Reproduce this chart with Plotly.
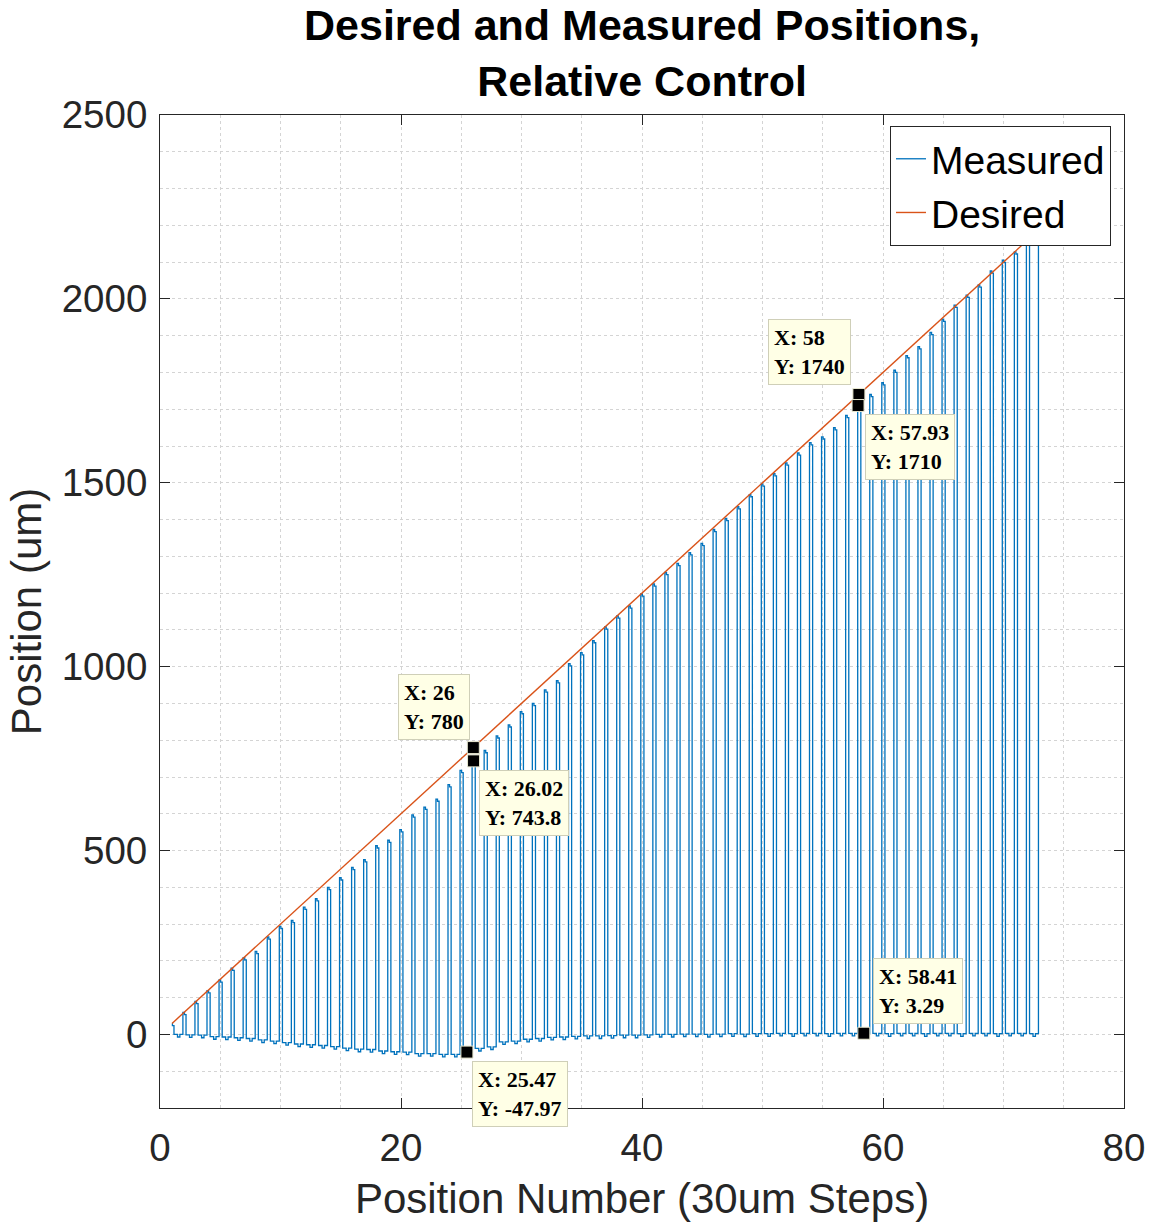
import plotly.graph_objects as go

# Position index (30 um steps)
positions = list(range(1, 74))

# Commanded position for each step (um)
desired = [30, 60, 90, 120, 150, 180, 210, 240, 270, 300,
           330, 360, 390, 420, 450, 480, 510, 540, 570, 600,
           630, 660, 690, 720, 750, 780, 810, 840, 870, 900,
           930, 960, 990, 1020, 1050, 1080, 1110, 1140, 1170, 1200,
           1230, 1260, 1290, 1320, 1350, 1380, 1410, 1440, 1470, 1500,
           1530, 1560, 1590, 1620, 1650, 1680, 1710, 1740, 1770, 1800,
           1830, 1860, 1890, 1920, 1950, 1980, 2010, 2040, 2070, 2100,
           2130, 2160, 2190]

# Measured position at the top of each excursion (um)
measured_peak = [30, 60, 90, 119, 148, 180, 209, 226, 265, 294,
                 310, 346, 369, 400, 426, 454, 475, 513, 528, 557,
                 597, 618, 640, 679, 718, 743.8, 772, 812, 842, 878,
                 900, 937, 962, 1008, 1038, 1071, 1108, 1138, 1165, 1198,
                 1225, 1256, 1281, 1310, 1335, 1373, 1403, 1435, 1468, 1497,
                 1525, 1554, 1581, 1609, 1625, 1650, 1683, 1710, 1740, 1772,
                 1806, 1846, 1870, 1909, 1945, 1983, 2010, 2038, 2076, 2105,
                 2128, 2158, 2182]

# Measured position after returning home, following each excursion (um)
measured_home = [0, -1, -2, -6, -7, -9, -11, -15, -18, -22,
                 -26, -28, -30, -33, -37, -40, -41, -45, -47, -48,
                 -52, -52, -54, -54, -47.97, -38, -34, -20, -18, -13,
                 -11, -8, -7, -5, -4, -4, -3, -2, -2, -1,
                 0, 0, 1, 1, 0, 1, 2, 1, 2, 2,
                 3, 2, 3, 3, 2, 3, 3, 3.29, 3, 2,
                 3, 3, 2, 3, 3, 2, 3, 3, 2, 3,
                 3, 2, 3]

# Data tips
tip_x = [26, 26.02, 25.47, 58, 57.93, 58.41]
tip_y = [780, 743.8, -47.97, 1740, 1710, 3.29]
tip_text = ["X: 26<br>Y: 780", "X: 26.02<br>Y: 743.8", "X: 25.47<br>Y: -47.97",
            "X: 58<br>Y: 1740", "X: 57.93<br>Y: 1710", "X: 58.41<br>Y: 3.29"]
# box placement relative to the tip point: (xanchor, yanchor, xshift, yshift)
tip_place = [("right", "bottom", -3, 8), ("left", "top", 5, -9), ("left", "top", 5, -9),
             ("right", "bottom", -8, 10), ("left", "top", 7, -8), ("left", "bottom", 9, 9)]

# Build the measured trace as a pulse train: go out to the step, come home
mx, my = [], []
for i, n in enumerate(positions):
    p = measured_peak[i]
    h = measured_home[i]
    if i == 0:
        mx += [n]
        my += [p]
    else:
        mx += [n - 0.1, n - 0.1]
        my += [measured_home[i - 1], p]
    mx += [n + 0.03, n + 0.03, n + 0.16]
    my += [p, p - 6, p - 6]
    if i == len(positions) - 1:
        break
    mx += [n + 0.16, n + 0.45, n + 0.45, n + 0.65, n + 0.65, n + 0.9]
    my += [h, h, h - 7, h - 7, h, h]

BLUE = "#0072BD"
ORANGE = "#D95319"
AX = "#262626"
GRID = "#d4d4d4"
SANS = "Liberation Sans, Arial, sans-serif"

fig = go.Figure()
fig.add_trace(go.Scatter(x=mx, y=my, mode="lines", name="Measured",
                         line=dict(color=BLUE, width=1.3)))
fig.add_trace(go.Scatter(x=positions, y=desired, mode="lines", name="Desired",
                         line=dict(color=ORANGE, width=1.4)))
fig.add_trace(go.Scatter(x=tip_x, y=tip_y, mode="markers", showlegend=False,
                         marker=dict(symbol="square", size=12, color="black",
                                     line=dict(color="#e8e8d0", width=1))))

for tx, ty, txt, (xa, ya, xs, ys) in zip(tip_x, tip_y, tip_text, tip_place):
    fig.add_annotation(x=tx, y=ty, xref="x", yref="y", text="<b>" + txt + "</b>",
                       showarrow=False, xanchor=xa, yanchor=ya, xshift=xs, yshift=ys,
                       align="left", bgcolor="#ffffe6", bordercolor="#cfcfb8",
                       borderwidth=1, borderpad=5,
                       font=dict(family="Liberation Serif, Times New Roman, serif",
                                 size=22, color="black"))

# Two-line bold title centred over the plotting area
fig.add_annotation(text="<b>Desired and Measured Positions,<br>Relative Control</b>",
                   x=0.5, xref="paper", y=1.062, yref="paper",
                   xanchor="center", yanchor="middle", showarrow=False,
                   font=dict(family=SANS, size=43, color="black"))

axis_common = dict(
    showline=True, linecolor=AX, linewidth=1, mirror="ticks",
    ticks="inside", ticklen=10, tickwidth=1, tickcolor=AX,
    showgrid=True, gridcolor=GRID, griddash="dot", gridwidth=1,
    zeroline=False, automargin=False,
    tickfont=dict(family=SANS, size=38.5, color=AX),
)

fig.update_xaxes(range=[0, 80], dtick=20, tick0=0, ticklabelstandoff=6,
                 minor=dict(dtick=5, showgrid=True, gridcolor=GRID, griddash="dot"),
                 title=dict(text="Position Number (30um Steps)", standoff=15,
                            font=dict(family=SANS, size=42, color=AX)),
                 **axis_common)
fig.update_yaxes(range=[-200, 2500], dtick=500, tick0=0, ticklabelstandoff=4,
                 minor=dict(dtick=100, showgrid=True, gridcolor=GRID, griddash="dot"),
                 title=dict(text="Position (um)", standoff=6,
                            font=dict(family=SANS, size=42, color=AX)),
                 **axis_common)

fig.update_layout(
    width=1151, height=1226,
    margin=dict(l=160, r=27, t=115, b=118),
    plot_bgcolor="white", paper_bgcolor="white",
    legend=dict(x=0.9865, y=0.989, xanchor="right", yanchor="top",
                bgcolor="white", bordercolor=AX, borderwidth=1,
                font=dict(family=SANS, size=39, color="black"),
                tracegroupgap=0, itemwidth=30),
    showlegend=True,
)

fig.write_html("out.html")
